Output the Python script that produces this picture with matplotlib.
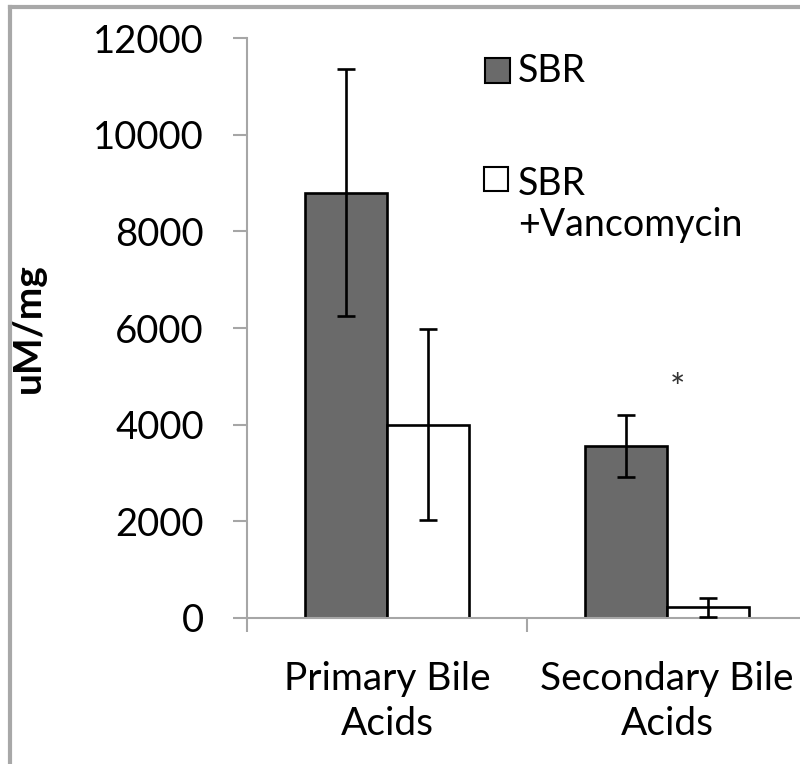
import matplotlib
matplotlib.use("Agg")
import matplotlib.pyplot as plt
from matplotlib.patches import Rectangle
from matplotlib.lines import Line2D
import numpy as np

categories = ["Primary Bile\nAcids", "Secondary Bile\nAcids"]
sbr_values = [8800, 3560]
sbr_errors = [2560, 640]
vanco_values = [4000, 220]
vanco_errors = [1970, 190]
series_labels = ["SBR", "SBR\n+Vancomycin"]
y_ticks = [0, 2000, 4000, 6000, 8000, 10000, 12000]

plt.rcParams['font.family'] = ['Lato', 'DejaVu Sans']

W, H = 800, 764
fig = plt.figure(figsize=(W / 100, H / 100), dpi=100)
fig.patch.set_facecolor("white")

ax_left, ax_right, ax_top, ax_bottom = 247, 807, 38, 618
ax = fig.add_axes([ax_left / W, 1 - ax_bottom / H, (ax_right - ax_left) / W, (ax_bottom - ax_top) / H])

x = np.arange(len(categories))
bw = 0.293
grey = "#a6a6a6"
ax.bar(x - bw / 2, sbr_values, bw, color="#6a6a6a", edgecolor="black", linewidth=1.9, zorder=2)
ax.bar(x + bw / 2, vanco_values, bw, color="white", edgecolor="black", linewidth=1.9, zorder=2)
ax.errorbar(x - bw / 2, sbr_values, yerr=sbr_errors, fmt="none", ecolor="black",
            elinewidth=1.9, capsize=6.8, capthick=1.9, zorder=3)
ax.errorbar(x + bw / 2, vanco_values, yerr=vanco_errors, fmt="none", ecolor="black",
            elinewidth=1.9, capsize=6.8, capthick=1.9, zorder=3)

ax.set_xlim(-0.5, 1.5)
ax.set_ylim(0, 12000)
ax.set_yticks(y_ticks)
ax.set_yticklabels([str(v) for v in y_ticks], fontsize=27.5)
ax.tick_params(axis="y", direction="out", length=10, width=1.5, color=grey, pad=21)

ax.set_xticks([-0.5, 0.5, 1.5])
ax.set_xticklabels(["", "", ""])
ax.tick_params(axis="x", which="major", direction="out", length=10, width=1.5, color=grey)
ax.set_xticks(x, minor=True)
ax.set_xticklabels(categories, minor=True, fontsize=28, linespacing=1.3)
ax.tick_params(axis="x", which="minor", length=0, pad=31)

for s in ["top", "right"]:
    ax.spines[s].set_visible(False)
for s in ["left", "bottom"]:
    ax.spines[s].set_color(grey)
    ax.spines[s].set_linewidth(1.5)

ax.set_ylabel("uM/mg", fontsize=28, fontweight="bold")
ax.yaxis.set_label_coords(-(247 - 46) / 560, 0.5)

ax.text(1.036, 4720, "*", fontsize=26, ha="center", va="center", color="#333333")

# legend (manual)
def fx(px):
    return px / W

def fy(py):
    return 1 - py / H

fig.add_artist(Rectangle((fx(485), fy(83)), 25 / W, 25 / H, facecolor="#6a6a6a",
                         edgecolor="black", linewidth=1.5, transform=fig.transFigure))
fig.add_artist(Rectangle((fx(484), fy(191)), 24 / W, 24 / H, facecolor="white",
                         edgecolor="black", linewidth=1.5, transform=fig.transFigure))
fig.text(fx(518), fy(71), series_labels[0], fontsize=27, ha="left", va="center")
fig.text(fx(518), fy(166), series_labels[1], fontsize=27, ha="left", va="top",
         linespacing=1.18, transform=fig.transFigure)

# outer frame (left and top visible)
fig.add_artist(Line2D([fx(9.5), fx(9.5)], [0, fy(6.5)], color="#a8a8a8", linewidth=3,
                      transform=fig.transFigure))
fig.add_artist(Line2D([fx(9.5), 1], [fy(6.5), fy(6.5)], color="#a8a8a8", linewidth=3,
                      transform=fig.transFigure))

fig.savefig("out.png", dpi=100, facecolor="white")
